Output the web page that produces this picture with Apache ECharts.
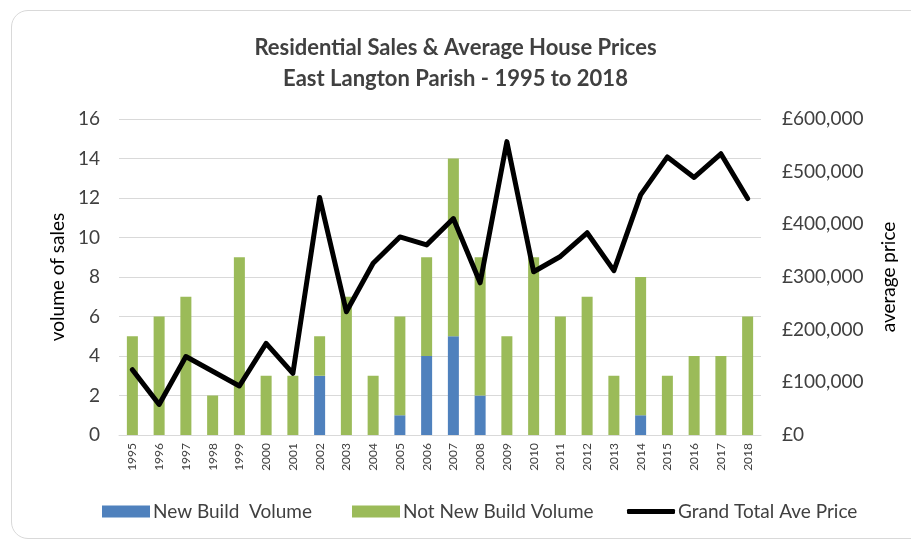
<!DOCTYPE html>
<html>
<head>
<meta charset="utf-8">
<script src="https://cdn.jsdelivr.net/npm/echarts@6/dist/echarts.min.js"></script>
<style>
    html, body { margin: 0; padding: 0; background: #fff; }
    #frame {
        position: absolute; left: 11px; top: 10px; width: 940px; height: 529px;
        border: 1px solid #d9d9d9; border-radius: 17px; box-sizing: border-box;
    }
    #chart { position: absolute; left: 0; top: 0; width: 911px; height: 539px; }
</style>
</head>
<body>
<div id="frame"></div>
<div id="chart"></div>
<script>
// Data
const years = ['1995', '1996', '1997', '1998', '1999', '2000', '2001', '2002', '2003', '2004', '2005', '2006',
    '2007', '2008', '2009', '2010', '2011', '2012', '2013', '2014', '2015', '2016', '2017', '2018'];
const newBuild = [0, 0, 0, 0, 0, 0, 0, 3, 0, 0, 1, 4, 5, 2, 0, 0, 0, 0, 0, 1, 0, 0, 0, 0];
const notNewBuild = [5, 6, 7, 2, 9, 3, 3, 2, 7, 3, 5, 5, 9, 7, 5, 9, 6, 7, 3, 7, 3, 4, 4, 6];
const avePrice = [124000, 58000, 149000, 121000, 93000, 174000, 117000, 451000, 234000, 326000, 376000, 361000,
    411000, 289000, 557000, 310000, 339000, 384000, 312000, 456000, 528000, 489000, 534000, 449000];

const FONT = 'Lato, "Open Sans", sans-serif';
const TEXT = '#404040';

const chart = echarts.init(document.getElementById('chart'));

// one legend per series so each sits where the reference has it
function legendFor(name, left, icon, h) {
    return {
        data: [{ name: name, icon: icon }],
        left: left,
        top: 497,
        itemWidth: 48,
        itemHeight: h,
        itemGap: 4,
        textStyle: { fontFamily: FONT, fontSize: 19, color: TEXT, padding: [0, 0, 0, -2] }
    };
}

chart.setOption({
    animation: false,
    title: {
        text: 'Residential Sales & Average House Prices\nEast Langton Parish - 1995 to 2018',
        left: 'center',
        top: 27,
        textStyle: { fontFamily: FONT, fontSize: 22, fontWeight: 'bold', color: TEXT, lineHeight: 31 }
    },
    legend: [
        legendFor('New Build  Volume', 97, 'rect', 12),
        legendFor('Not New Build Volume', 347, 'rect', 12),
        legendFor('Grand Total Ave Price', 622, 'roundRect', 5)
    ],
    grid: { left: 119, right: 150, top: 119, bottom: 104 },
    xAxis: {
        type: 'category',
        data: years,
        axisTick: { show: false },
        axisLine: { lineStyle: { color: '#d9d9d9', width: 1 } },
        axisLabel: { rotate: 90, fontFamily: FONT, fontSize: 12, color: TEXT, margin: 8 }
    },
    yAxis: [
        {
            type: 'value',
            min: 0, max: 16, interval: 2,
            name: 'volume of sales',
            nameLocation: 'middle',
            nameGap: 51,
            nameTextStyle: { fontFamily: FONT, fontSize: 19, color: '#000' },
            axisLabel: { fontFamily: FONT, fontSize: 19, color: TEXT, margin: 19 },
            splitLine: { lineStyle: { color: '#d9d9d9', width: 1 } }
        },
        {
            type: 'value',
            min: 0, max: 600000, interval: 100000,
            name: 'average price',
            nameLocation: 'middle',
            nameGap: 118,
            nameRotate: 90,
            nameTextStyle: { fontFamily: FONT, fontSize: 19, color: '#000' },
            axisLabel: {
                fontFamily: FONT, fontSize: 19, color: TEXT, margin: 21,
                formatter: v => '£' + v.toLocaleString('en-GB')
            },
            splitLine: { show: false }
        }
    ],
    series: [
        {
            name: 'New Build  Volume',
            type: 'bar',
            stack: 'vol',
            barWidth: 11,
            itemStyle: { color: '#4F81BD' },
            data: newBuild
        },
        {
            name: 'Not New Build Volume',
            type: 'bar',
            stack: 'vol',
            barWidth: 11,
            itemStyle: { color: '#9BBB59' },
            data: notNewBuild
        },
        {
            name: 'Grand Total Ave Price',
            type: 'line',
            yAxisIndex: 1,
            showSymbol: false,
            symbol: 'none',
            lineStyle: { color: '#000', width: 5, cap: 'round', join: 'round' },
            itemStyle: { color: '#000' },
            data: avePrice
        }
    ]
});
</script>
</body>
</html>
